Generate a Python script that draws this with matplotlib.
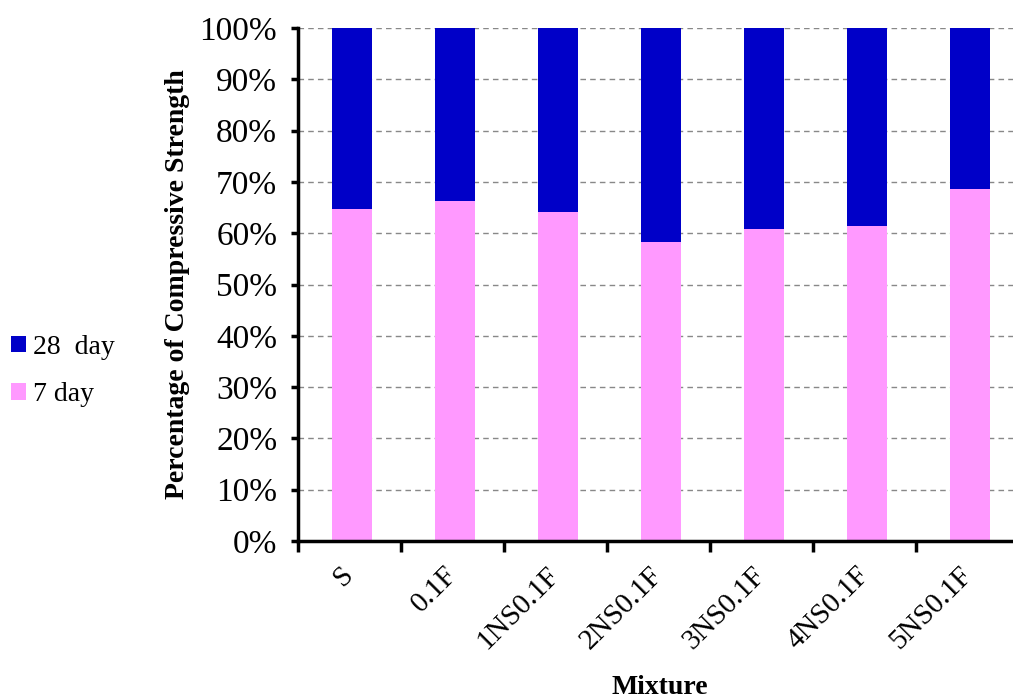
import matplotlib.pyplot as plt
import matplotlib.transforms as mtransforms
import numpy as np
from matplotlib.ticker import PercentFormatter, MultipleLocator
from matplotlib.patches import Patch

# --- DATOS ---
mezclas = ['S', '0.1F', '1NS0.1F', '2NS0.1F', '3NS0.1F', '4NS0.1F', '5NS0.1F']
dia_7 = [64.8, 66.3, 64.1, 58.3, 60.8, 61.5, 68.6]
dia_28 = [100 - v for v in dia_7]

AZUL = '#0000C8'
ROSA = '#FF99FF'

plt.rcParams['font.family'] = ['Liberation Serif', 'DejaVu Serif']

fig = plt.figure(figsize=(10.13, 7.0), dpi=100)
ax = fig.add_axes([298 / 1013, 1 - 541 / 700, 721 / 1013, 513 / 700])

x = np.arange(len(mezclas))
ax.bar(x + 0.025, dia_7, width=0.39, color=ROSA, zorder=2)
ax.bar(x + 0.025, dia_28, width=0.39, bottom=dia_7, color=AZUL, zorder=2)

ax.set_xlim(-0.5, len(mezclas) - 0.5)
ax.set_ylim(0, 100)
ax.yaxis.set_major_locator(MultipleLocator(10))
ax.yaxis.set_major_formatter(PercentFormatter(decimals=0))
ax.grid(axis='y', linestyle=(0, (4, 3)), color='#888888', linewidth=1, zorder=0)

for lado in ['top', 'right']:
    ax.spines[lado].set_visible(False)
ax.spines['left'].set_linewidth(2.5)
ax.spines['bottom'].set_linewidth(2.5)

ax.set_xticks(x)
ax.set_xticklabels(mezclas, rotation=45, ha='right', rotation_mode='anchor', fontsize=21)
ax.tick_params(axis='x', which='major', length=0, pad=15)
desplaza = mtransforms.ScaledTranslation(-9 / 100, 0, fig.dpi_scale_trans)
for etiqueta in ax.get_xticklabels():
    etiqueta.set_transform(etiqueta.get_transform() + desplaza)
ax.set_xticks(np.arange(-0.5, len(mezclas), 1), minor=True)
ax.tick_params(axis='x', which='minor', length=8, width=2.5, direction='out')
ax.tick_params(axis='y', length=5, width=2.5, direction='out', labelsize=24, pad=10)

ax.set_ylabel('Percentage of Compressive Strength', fontsize=20, fontweight='bold')
ax.yaxis.set_label_coords(-(298 - 190) / 721, 0.5)
fig.text(660 / 1013, 1 - 688 / 700, 'Mixture', fontsize=20, fontweight='bold', ha='center', va='center')

handles = [Patch(facecolor=AZUL, label='28  day'), Patch(facecolor=ROSA, label='7 day')]
fig.legend(handles=handles, loc='center left', bbox_to_anchor=(0.0, 1 - 371 / 700),
           frameon=False, fontsize=20, handlelength=0.55, handleheight=0.55,
           handletextpad=0.25, labelspacing=0.8, borderaxespad=0)

fig.savefig('out.png', dpi=100)
